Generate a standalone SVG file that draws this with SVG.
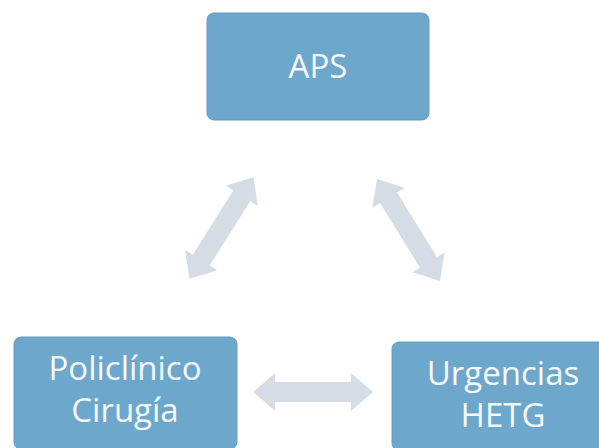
<svg xmlns="http://www.w3.org/2000/svg" width="599" height="448" viewBox="0 0 599 448">
<style>
.box{fill:#6ea7cc;stroke:#659ec4;stroke-width:1}
.lbl{font-family:"Open Sans","Noto Sans",sans-serif;font-size:33px;fill:#f5f9fc;text-anchor:middle}
.arr{fill:#d6dce3}
</style>
<defs>
<path id="dbl" d="M-60,0 L-38,-19 L-38,-10 L38,-10 L38,-19 L60,0 L38,19 L38,10 L-38,10 L-38,19 Z"/>
</defs>
<rect width="599" height="448" fill="#ffffff"/>
<g id="connectors" class="arr">
<use href="#dbl" transform="translate(221.5,228) rotate(-57.8)"/>
<use href="#dbl" transform="translate(408.5,230) rotate(58.3)"/>
<use href="#dbl" transform="translate(313,392)"/>
</g>
<g id="aps">
<rect class="box" x="207" y="13" width="222" height="107" rx="7"/>
<text class="lbl" x="318" y="78">APS</text>
</g>
<g id="policlinico">
<rect class="box" x="14" y="337" width="223" height="112" rx="7"/>
<text class="lbl" x="125" y="380">Policlínico</text>
<text class="lbl" x="125" y="422">Cirugía</text>
</g>
<g id="urgencias">
<rect class="box" x="392" y="342" width="222" height="108" rx="7"/>
<text class="lbl" x="503" y="385">Urgencias</text>
<text class="lbl" x="503" y="427">HETG</text>
</g>
</svg>
